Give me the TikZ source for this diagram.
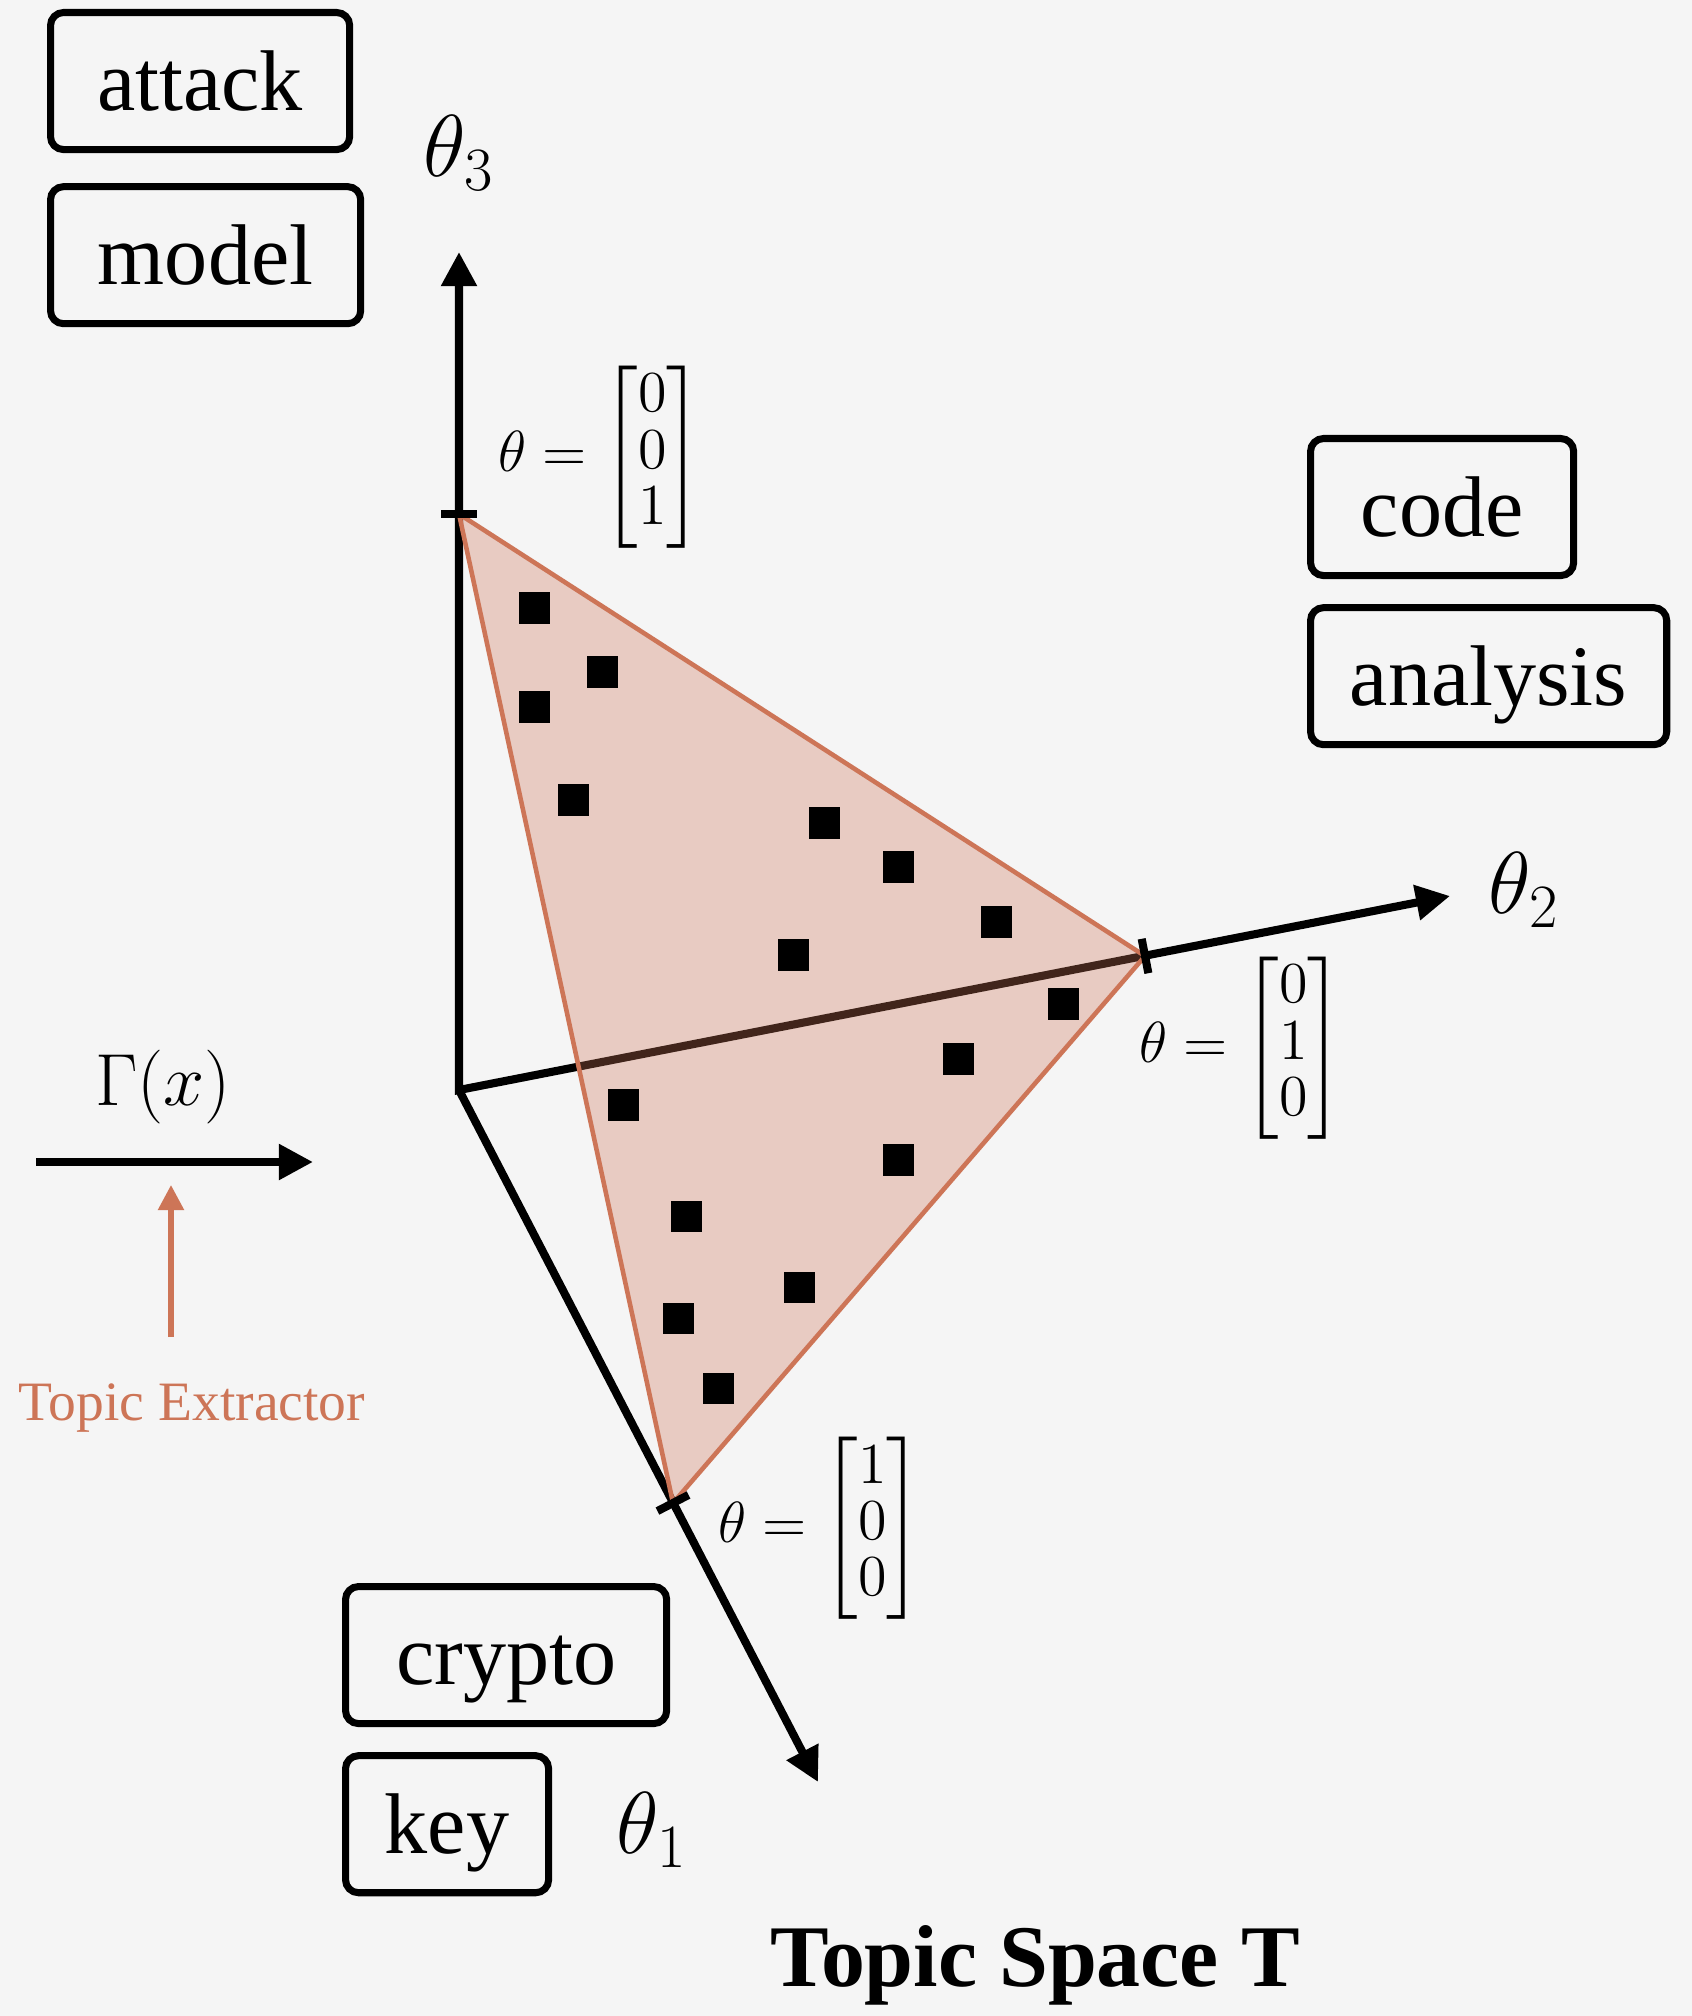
\documentclass[tikz,border=0pt]{standalone}
\usepackage{fix-cm}
\usepackage{amsmath}
\usepackage{fontspec}
\setmainfont{Liberation Serif}
\usetikzlibrary{positioning,arrows.meta,calc}
\definecolor{rust}{RGB}{205,117,87}
\definecolor{paper}{RGB}{245,245,245}
\tikzset{
  Head/.tip={Triangle[length=0.34cm,width=0.34cm]},
  axisline/.style={line width=2.3pt},
  tagbox/.style={draw,line width=2pt,rounded corners=0.13cm,minimum height=1.37cm,inner sep=0pt,
    text height=16.5pt,text depth=0pt,font=\fontsize{24.5}{28}\selectfont},
  axlabel/.style={inner sep=0pt,font=\fontsize{25}{30}\selectfont},
  vertlabel/.style={inner sep=0pt,font=\fontsize{16.5}{16}\selectfont},
  sample/.style={fill=black,minimum size=0.31cm,inner sep=0pt,outer sep=0pt}
}

\begin{document}
\begin{tikzpicture}[x=0.01cm,y=-0.01cm]
\fill[paper] (0,0) rectangle (1692,2016);
\useasboundingbox (0,0) rectangle (1692,2016);

% topic words
\node[tagbox,minimum width=2.99cm,anchor=north west] (attack) at (47,9) {attack};
\node[tagbox,minimum width=3.10cm,below=0.3cm of attack.south west,anchor=north west] (model) {model};
\node[tagbox,minimum width=2.63cm,anchor=north west] (code) at (1307,435) {code};
\node[tagbox,minimum width=3.56cm,below=0.25cm of code.south west,anchor=north west] (analysis) {analysis};
\node[tagbox,minimum width=3.21cm,anchor=north west] (crypto) at (342,1583) {crypto};
\node[tagbox,minimum width=2.03cm,below=0.25cm of crypto.south west,anchor=north west] (key) {key};

% axes
\coordinate (O) at (459,1090);
\coordinate (top3) at (459,252);
\coordinate (top2) at (1450,896);
\coordinate (top1) at (818,1782);
\coordinate (T3) at (459,514);
\coordinate (T2) at (1145,956);
\coordinate (T1) at (673,1503);
\draw[axisline,Head-Head] (top3) -- (O) -- (top2);
\draw[axisline,-Head] (O) -- (top1);

% simplex
\filldraw[draw=rust,line width=1.3pt,fill=rust,fill opacity=0.32,line join=round] (T3) -- (T2) -- (T1) -- cycle;
\foreach \x/\y [count=\i] in {534/608,602/672,534/707,573/800,824/823,898/867,996/922,793/955,
  1063/1004,958/1059,623/1105,898/1160,686/1216,799/1287,678/1318,718/1388}
  \node[sample] (dot\i) at (\x,\y) {};

% ticks
\foreach \t in {T1,T2,T3}
  \draw[axisline] ($(\t)!0.175cm!90:(O)$) -- ($(\t)!0.175cm!-90:(O)$);

\node[vertlabel] (v3) at (600,457) {$\theta=\begin{bmatrix}0\\0\\1\end{bmatrix}$};
\node[vertlabel] (v2) at (1241,1048) {$\theta=\begin{bmatrix}0\\1\\0\end{bmatrix}$};
\node[vertlabel] (v1) at (820,1528) {$\theta=\begin{bmatrix}1\\0\\0\end{bmatrix}$};

\node[axlabel] (lab3) at (459,153) {$\theta_3$};
\node[axlabel] (lab2) at (1524,890) {$\theta_2$};
\node[axlabel] (lab1) at (652,1830) {$\theta_1$};

% extractor
\coordinate (gin) at (36,1162);
\coordinate (gout) at (313,1162);
\draw[axisline,-Head] (gin) -- (gout);
\node[inner sep=0pt,font=\fontsize{21}{25}\selectfont] (gamma) at (163,1087) {$\Gamma(x)$};
\node[text=rust,anchor=base,inner sep=0pt,font=\fontsize{15.8}{19}\selectfont] (extractor) at (192,1420) {Topic Extractor};
\coordinate (xfrom) at (171,1337);
\coordinate (xto) at (171,1185);
\draw[rust,line width=1.5pt,-{Triangle[length=0.25cm,width=0.25cm]}] (xfrom) -- (xto);

\node[anchor=base,inner sep=0pt,font=\bfseries\fontsize{25}{30}\selectfont] (title) at (1035,1986) {Topic Space T};
\end{tikzpicture}
\end{document}
